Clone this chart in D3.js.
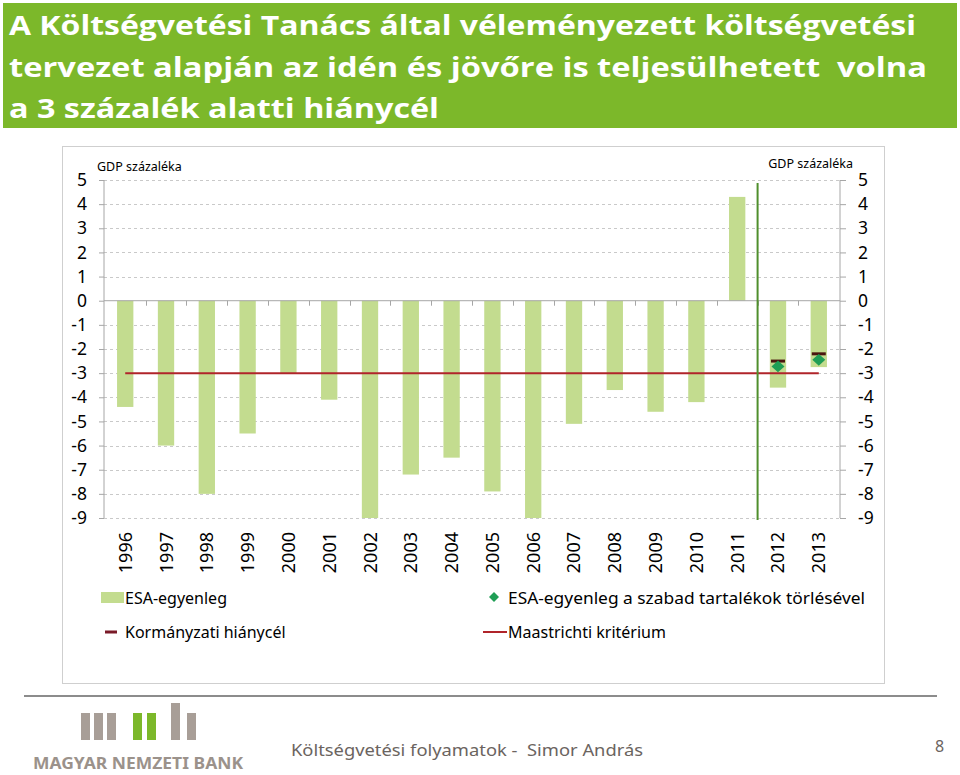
<!DOCTYPE html>
<html>
<head>
<meta charset="utf-8">
<script src="https://cdn.jsdelivr.net/npm/d3@7"></script>
<style>
  body { margin: 0; background: #fff; }
  svg text { font-family: "Noto Sans", sans-serif; white-space: pre; }
</style>
</head>
<body>
<svg id="chart" width="960" height="775"></svg>
<script>
// data (GDP százaléka)
var years = ["1996", "1997", "1998", "1999", "2000", "2001", "2002", "2003", "2004",
             "2005", "2006", "2007", "2008", "2009", "2010", "2011", "2012", "2013"]
var esaBalance = [-4.4, -6.0, -8.0, -5.5, -3.0, -4.1, -9.0, -7.2, -6.5,
                  -7.9, -9.3, -5.1, -3.7, -4.6, -4.2, 4.3, -3.6, -2.75]
var targetYears = ["2012", "2013"]
var govTarget = [-2.5, -2.2]
var esaNoReserve = [-2.72, -2.45]
var maastricht = -3
var yTicks = [5, 4, 3, 2, 1, 0, -1, -2, -3, -4, -5, -6, -7, -8, -9]
var titleLines = ["A Költségvetési Tanács által véleményezett költségvetési",
                  "tervezet alapján az idén és jövőre is teljesülhetett  volna",
                  "a 3 százalék alatti hiánycél"]

const BAR_COLOR = "#c3dc8f"
const RED_LINE = "#b0242a"
const TARGET_COLOR = "#4a1610"
const DIAMOND_COLOR = "#1f9e55"
const GRID_COLOR = "#c9c9c9"
const AXIS_COLOR = "#a6a6a6"

var svg = d3.select("#chart")

// title banner
svg.append("rect")
    .attr("x", 3).attr("y", 3)
    .attr("width", 954).attr("height", 125)
    .attr("fill", "#7cb82a")

var titleLen = [907, 918, 430]
svg.selectAll(".title")
    .data(titleLines)
    .enter().append("text")
    .attr("class", "title")
    .attr("x", 9)
    .attr("y", (d, i) => 35 + i * 41.5)
    .attr("textLength", (d, i) => titleLen[i])
    .attr("lengthAdjust", "spacingAndGlyphs")
    .style("font-family", "'Open Sans', sans-serif")
    .style("font-weight", "bold")
    .style("font-size", "26px")
    .style("fill", "#fff")
    .text(d => d)

// chart frame
svg.append("rect")
    .attr("x", 62.5).attr("y", 146.5)
    .attr("width", 822).attr("height", 537)
    .attr("fill", "#fff")
    .attr("stroke", "#cfcfcf")

var x = d3.scaleBand()
    .domain(years)
    .range([104, 840])
    .paddingInner(0.6)
    .paddingOuter(0.32)

var y = d3.scaleLinear()
    .domain([-9, 5])
    .range([518, 180])

var plot = svg.append("g")

// dashed gridlines
plot.selectAll(".grid")
    .data(yTicks.filter(t => t !== 0))
    .enter().append("line")
    .attr("class", "grid")
    .attr("x1", 104).attr("x2", 840)
    .attr("y1", d => Math.round(y(d)) + 0.5)
    .attr("y2", d => Math.round(y(d)) + 0.5)
    .attr("stroke", GRID_COLOR)
    .attr("stroke-dasharray", "3,3")

// left & right axes
var fmt = d => (d < 0 ? "-" : "") + Math.abs(d)
var leftAxis = d3.axisLeft(y).tickValues(yTicks).tickSize(5).tickPadding(12).tickFormat(fmt)
var rightAxis = d3.axisRight(y).tickValues(yTicks).tickSize(6).tickPadding(12).tickFormat(fmt)

var gl = plot.append("g").attr("transform", "translate(104,0)").call(leftAxis)
var gr = plot.append("g").attr("transform", "translate(840,0)").call(rightAxis)
;[gl, gr].forEach(g => {
    g.select(".domain").attr("stroke", AXIS_COLOR).attr("d", "M0," + y(5) + "V" + y(-9))
    g.selectAll(".tick line").attr("stroke", AXIS_COLOR)
    g.selectAll(".tick text")
        .style("font-size", "17.5px")
        .style("font-family", "'Noto Sans', sans-serif")
        .attr("fill", "#000")
})

// bars
plot.selectAll(".bar")
    .data(years)
    .enter().append("rect")
    .attr("class", "bar")
    .attr("x", d => x(d))
    .attr("width", x.bandwidth())
    .attr("y", (d, i) => y(esaBalance[i] > 0 ? esaBalance[i] : 0))
    .attr("height", (d, i) => Math.abs(y(Math.max(esaBalance[i], -9)) - y(0)))
    .attr("fill", BAR_COLOR)

// zero line with category ticks
plot.append("line")
    .attr("x1", 104).attr("x2", 840)
    .attr("y1", y(0)).attr("y2", y(0))
    .attr("stroke", AXIS_COLOR)

var step = x.step()
plot.selectAll(".ztick")
    .data(years.slice(1))
    .enter().append("line")
    .attr("class", "ztick")
    .attr("x1", d => Math.round(x(d) - step * x.paddingInner() / 2) + 0.5)
    .attr("x2", d => Math.round(x(d) - step * x.paddingInner() / 2) + 0.5)
    .attr("y1", y(0)).attr("y2", y(0) + 5)
    .attr("stroke", AXIS_COLOR)

// Maastricht line
plot.append("line")
    .attr("x1", x(years[0]) + x.bandwidth() / 2)
    .attr("x2", x(years[years.length - 1]) + x.bandwidth() / 2)
    .attr("y1", y(maastricht)).attr("y2", y(maastricht))
    .attr("stroke", RED_LINE)
    .attr("stroke-width", 2)

// vertical divider between actual and planned years
var divX = x("2012") - step * x.paddingInner() / 2
plot.append("line")
    .attr("x1", divX).attr("x2", divX)
    .attr("y1", 183).attr("y2", 520)
    .attr("stroke", "#4f8f2c")
    .attr("stroke-width", 2)

// government deficit targets
plot.selectAll(".target")
    .data(targetYears)
    .enter().append("rect")
    .attr("class", "target")
    .attr("x", d => x(d) + x.bandwidth() / 2 - 7)
    .attr("y", (d, i) => y(govTarget[i]) - 1.5)
    .attr("width", 14).attr("height", 3)
    .attr("fill", TARGET_COLOR)

// ESA balance without free reserves
plot.selectAll(".diamond")
    .data(targetYears)
    .enter().append("path")
    .attr("class", "diamond")
    .attr("d", d3.symbol(d3.symbolDiamond, 45))
    .attr("transform", (d, i) => "translate(" + (x(d) + x.bandwidth() / 2) + "," + y(esaNoReserve[i]) + ") scale(1.8,0.95)")
    .attr("fill", DIAMOND_COLOR)

// year labels
plot.selectAll(".year")
    .data(years)
    .enter().append("text")
    .attr("class", "year")
    .attr("transform", d => "translate(" + (x(d) + x.bandwidth() / 2 + 6.5) + ",532) rotate(-90)")
    .style("text-anchor", "end")
    .style("font-size", "18px")
    .text(d => d)

// unit labels
svg.append("text").attr("x", 97).attr("y", 171)
    .style("font-size", "12.5px").text("GDP százaléka")
svg.append("text").attr("x", 853).attr("y", 168)
    .style("font-size", "12.5px").style("text-anchor", "end").text("GDP százaléka")

// legend
var lg = svg.append("g").style("font-size", "16px")
lg.append("rect").attr("x", 101).attr("y", 592).attr("width", 23).attr("height", 11).attr("fill", BAR_COLOR)
lg.append("text").attr("x", 125).attr("y", 604).text("ESA-egyenleg")
lg.append("rect").attr("x", 105).attr("y", 630.5).attr("width", 12).attr("height", 3).attr("fill", "#7a1a28")
lg.append("text").attr("x", 125).attr("y", 638).text("Kormányzati hiánycél")
lg.append("path").attr("d", d3.symbol(d3.symbolDiamond, 30))
    .attr("transform", "translate(494,597) scale(1.7,1)").attr("fill", DIAMOND_COLOR)
lg.append("text").attr("x", 508).attr("y", 604).attr("textLength", 357).attr("lengthAdjust", "spacingAndGlyphs")
    .text("ESA-egyenleg a szabad tartalékok törlésével")
lg.append("line").attr("x1", 483).attr("x2", 507).attr("y1", 632).attr("y2", 632)
    .attr("stroke", RED_LINE).attr("stroke-width", 2)
lg.append("text").attr("x", 508).attr("y", 638).text("Maastrichti kritérium")

// footer
svg.append("line").attr("x1", 24).attr("x2", 937).attr("y1", 696).attr("y2", 696)
    .attr("stroke", "#8c8c8c").attr("stroke-width", 2)

var logoH = [27, 27, 27, 27, 27, 37, 27]
var logoX = [81, 94, 107, 133, 147, 171, 187]
var logoC = ["#a89e97", "#a89e97", "#a89e97", "#7cb82a", "#7cb82a", "#a89e97", "#a89e97"]
svg.selectAll(".logo")
    .data(logoX)
    .enter().append("rect")
    .attr("class", "logo")
    .attr("x", d => d)
    .attr("y", (d, i) => 740 - logoH[i])
    .attr("width", 9)
    .attr("height", (d, i) => logoH[i])
    .attr("fill", (d, i) => logoC[i])

svg.append("text").attr("x", 33).attr("y", 769)
    .attr("textLength", 210).attr("lengthAdjust", "spacingAndGlyphs")
    .style("font-size", "16px").style("font-weight", "bold").style("fill", "#9b928b")
    .text("MAGYAR NEMZETI BANK")

svg.append("text").attr("x", 291).attr("y", 756)
    .attr("textLength", 352).attr("lengthAdjust", "spacingAndGlyphs")
    .style("font-size", "17px").style("fill", "#6b6460")
    .text("Költségvetési folyamatok -  Simor András")

svg.append("text").attr("x", 935).attr("y", 752)
    .style("font-size", "16px").style("fill", "#6b6460")
    .text("8")
</script>
</body>
</html>
